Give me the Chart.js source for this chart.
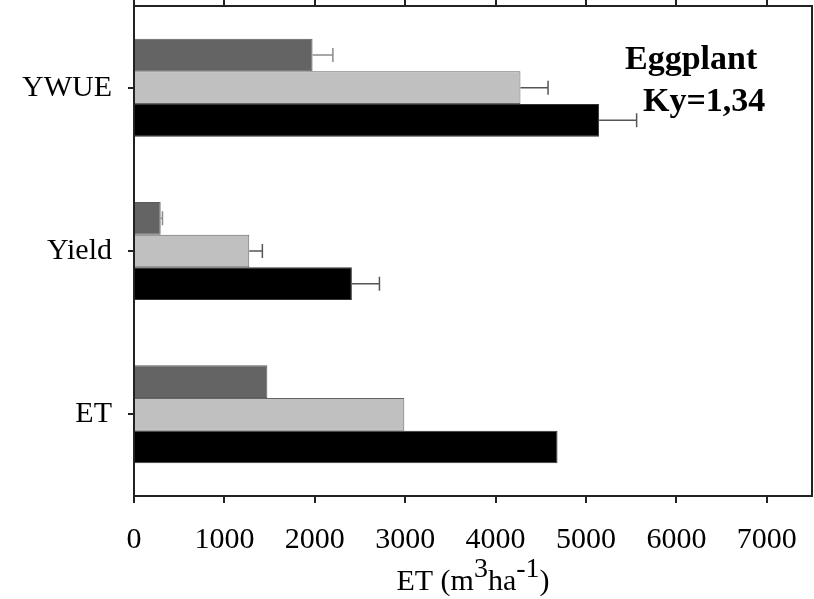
<!DOCTYPE html>
<html>
<head>
<meta charset="utf-8">
<script src="https://cdn.jsdelivr.net/npm/chart.js@4.4.1/dist/chart.umd.min.js"></script>
<style>
  html, body { margin: 0; padding: 0; background: #fff; }
  #wrap { width: 814px; height: 599px; position: relative; }
</style>
</head>
<body>
<div id="wrap"><canvas id="c" width="814" height="599"></canvas></div>
<script>
// ---- data ----
const categories = ['YWUE', 'Yield', 'ET'];
const seriesDark  = [1975, 295, 1475];
const seriesLight = [4275, 1275, 2990];
const seriesBlack = [5145, 2410, 4685];
const errDark  = [225, 20, 0];
const errLight = [305, 145, 0];
const errBlack = [415, 305, 0];
const xTickValues = [0, 1000, 2000, 3000, 4000, 5000, 6000, 7000];
const xMin = 0, xMax = 7500;
const annotationLines = ['Eggplant', 'Ky=1,34'];

const SERIF = "'Liberation Serif', 'Times New Roman', serif";

const frameAndExtras = {
  id: 'frameAndExtras',
  afterDatasetsDraw(chart) {
    const ctx = chart.ctx;
    const xs = chart.scales.x;
    const errs = [errDark, errLight, errBlack];
    const errColors = ['#8a8a8a', '#555555', '#555555'];
    chart.data.datasets.forEach((ds, di) => {
      const meta = chart.getDatasetMeta(di);
      meta.data.forEach((el, i) => {
        const e = errs[di][i];
        if (!e) return;
        const x0 = el.x;
        const x1 = xs.getPixelForValue(ds.data[i] + e);
        ctx.save();
        ctx.strokeStyle = errColors[di];
        ctx.lineWidth = 1.5;
        ctx.beginPath();
        ctx.moveTo(x0, el.y);
        ctx.lineTo(x1, el.y);
        ctx.moveTo(x1, el.y - 7);
        ctx.lineTo(x1, el.y + 7);
        ctx.stroke();
        ctx.restore();
      });
    });
  },
  afterDraw(chart) {
    const ctx = chart.ctx;
    const ca = chart.chartArea;
    ctx.save();
    ctx.strokeStyle = '#222';
    ctx.lineWidth = 2;
    ctx.beginPath();
    ctx.moveTo(ca.right, ca.top);
    ctx.lineTo(ca.right, ca.bottom);
    ctx.stroke();
    ctx.restore();

    ctx.save();
    ctx.fillStyle = '#000';
    ctx.font = "bold 34px " + SERIF;
    ctx.textBaseline = 'alphabetic';
    ctx.textAlign = 'left';
    ctx.fillText(annotationLines[0], 625, 69);
    ctx.fillText(annotationLines[1], 643, 111);
    ctx.restore();

    ctx.save();
    ctx.fillStyle = '#000';
    const big = "30px " + SERIF, small = "28px " + SERIF;
    const parts = [
      ['ET (m', big, 0], ['3', small, -13], ['ha', big, 0], ['-1', small, -13], [')', big, 0]
    ];
    let total = 0;
    parts.forEach(p => { ctx.font = p[1]; total += ctx.measureText(p[0]).width; });
    let x = (ca.left + ca.right) / 2 - total / 2;
    const base = 590;
    ctx.textBaseline = 'alphabetic';
    ctx.textAlign = 'left';
    parts.forEach(p => {
      ctx.font = p[1];
      ctx.fillText(p[0], x, base + p[2]);
      x += ctx.measureText(p[0]).width;
    });
    ctx.restore();
  }
};

new Chart(document.getElementById('c'), {
  type: 'bar',
  data: {
    labels: categories,
    datasets: [
      { data: seriesDark,  backgroundColor: '#646464', borderColor: '#5c5c5c', borderWidth: 1 },
      { data: seriesLight, backgroundColor: '#c0c0c0', borderColor: '#666666', borderWidth: 1 },
      { data: seriesBlack, backgroundColor: '#000000', borderColor: '#333333', borderWidth: 1 }
    ]
  },
  options: {
    indexAxis: 'y',
    responsive: false,
    animation: false,
    devicePixelRatio: 1,
    categoryPercentage: 0.6,
    barPercentage: 1.0,
    layout: { padding: { left: 0, right: 2, top: 0, bottom: 0 } },
    plugins: { legend: { display: false }, tooltip: { enabled: false } },
    scales: {
      x: {
        type: 'linear', position: 'bottom', min: xMin, max: xMax,
        afterBuildTicks: s => { s.ticks = xTickValues.map(v => ({ value: v })); },
        afterFit: s => { s.height = 103; s.paddingLeft = 0; s.paddingRight = 0; },
        grid: { drawOnChartArea: false, drawTicks: true, tickLength: 7, color: '#222', lineWidth: 2 },
        border: { display: true, color: '#222', width: 2 },
        ticks: { font: { family: SERIF, size: 30 }, color: '#000', padding: 19, maxRotation: 0, autoSkip: false,
                 callback: v => String(v) }
      },
      x2: {
        type: 'linear', position: 'top', min: xMin, max: xMax,
        afterBuildTicks: s => { s.ticks = xTickValues.map(v => ({ value: v })); },
        afterFit: s => { s.height = 6; s.paddingLeft = 0; s.paddingRight = 0; },
        grid: { drawOnChartArea: false, drawTicks: true, tickLength: 6, color: '#222', lineWidth: 2 },
        border: { display: true, color: '#222', width: 2 },
        ticks: { display: false }
      },
      y: {
        type: 'category', position: 'left',
        afterFit: s => { s.width = 134; s.paddingTop = 0; s.paddingBottom = 0; },
        grid: { drawOnChartArea: false, drawTicks: true, tickLength: 6, color: '#222', lineWidth: 2, offset: false },
        border: { display: true, color: '#222', width: 2 },
        ticks: { font: { family: SERIF, size: 30 }, color: '#000', padding: 16 }
      }
    }
  },
  plugins: [frameAndExtras]
});
</script>
</body>
</html>
